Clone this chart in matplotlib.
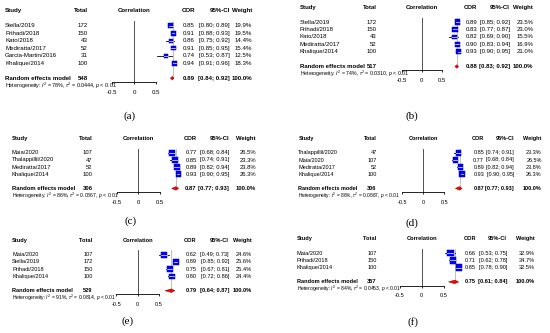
import matplotlib
matplotlib.use("Agg")
import matplotlib.pyplot as plt
from matplotlib.patches import Rectangle, Polygon

plt.rcParams['font.family'] = ['Liberation Sans', 'DejaVu Sans']
plt.rcParams['axes.unicode_minus'] = False
plt.rcParams['mathtext.fontset'] = 'custom'
plt.rcParams['mathtext.rm'] = 'Liberation Sans'
plt.rcParams['mathtext.it'] = 'Liberation Sans:italic'
plt.rcParams['mathtext.bf'] = 'Liberation Sans:bold'

# ---------------- data ----------------
studies_a = ["Stella/2019", "Prihadi/2018", "Kato/2018", "Mediratta/2017", "Garcia-Martin/2016", "Khalique/2014"]
totals_a = [172, 150, 43, 52, 31, 100]
cor_a = [0.85, 0.91, 0.86, 0.91, 0.74, 0.94]
lower_a = [0.80, 0.88, 0.75, 0.85, 0.53, 0.91]
upper_a = [0.89, 0.93, 0.92, 0.95, 0.87, 0.96]
weight_a = [19.9, 19.5, 14.4, 15.4, 12.5, 18.3]
pooled_a = [0.89, 0.84, 0.92]
pooled_total_a = 548
het_a = [78, "0.0444"]

studies_b = ["Stella/2019", "Prihadi/2018", "Kato/2018", "Mediratta/2017", "Khalique/2014"]
totals_b = [172, 150, 43, 52, 100]
cor_b = [0.89, 0.83, 0.82, 0.90, 0.93]
lower_b = [0.85, 0.77, 0.69, 0.83, 0.90]
upper_b = [0.92, 0.87, 0.90, 0.94, 0.95]
weight_b = [23.5, 23.0, 15.5, 16.9, 21.0]
pooled_b = [0.88, 0.83, 0.92]
pooled_total_b = 517
het_b = [74, "0.0310"]

studies_c = ["Maia/2020", "Thalappillil/2020", "Mediratta/2017", "Khalique/2014"]
totals_c = [107, 47, 52, 100]
cor_c = [0.77, 0.85, 0.89, 0.93]
lower_c = [0.68, 0.74, 0.82, 0.90]
upper_c = [0.84, 0.91, 0.94, 0.95]
weight_c = [26.5, 23.3, 23.8, 26.3]
pooled_c = [0.87, 0.77, 0.93]
pooled_total_c = 306
het_c = [86, "0.0867"]

studies_d = ["Thalappillil/2020", "Maia/2020", "Mediratta/2017", "Khalique/2014"]
totals_d = [47, 107, 52, 100]
cor_d = [0.85, 0.77, 0.89, 0.93]
lower_d = [0.74, 0.68, 0.82, 0.90]
upper_d = [0.91, 0.84, 0.94, 0.95]
weight_d = [23.3, 26.5, 23.8, 26.3]
pooled_d = [0.87, 0.77, 0.93]
pooled_total_d = 306
het_d = [86, "0.0867"]

studies_e = ["Maia/2020", "Stella/2019", "Prihadi/2018", "Khalique/2014"]
totals_e = [107, 172, 150, 100]
cor_e = [0.62, 0.89, 0.75, 0.80]
lower_e = [0.49, 0.85, 0.67, 0.72]
upper_e = [0.73, 0.92, 0.81, 0.86]
weight_e = [24.6, 25.6, 25.4, 24.4]
pooled_e = [0.79, 0.64, 0.87]
pooled_total_e = 529
het_e = [91, "0.0814"]

studies_f = ["Maia/2020", "Prihadi/2018", "Khalique/2014"]
totals_f = [107, 150, 100]
cor_f = [0.66, 0.71, 0.85]
lower_f = [0.53, 0.62, 0.78]
upper_f = [0.75, 0.78, 0.90]
weight_f = [32.9, 34.7, 32.5]
pooled_f = [0.75, 0.61, 0.84]
pooled_total_f = 357
het_f = [84, "0.0453"]

tick_values = [-0.5, 0, 0.5]
tick_labels = ["-0.5", "0", "0.5"]
panel_labels = ["(a)", "(b)", "(c)", "(d)", "(e)", "(f)"]

# ---------------- layout (pixels) ----------------
W, H = 550, 333
layouts = [
    dict(box=(0, 275), study=5, total=88, zero=134, s=43.3, cor=195, ci=230, wt=252, hy=10.7, ru=7.5, fs=4.4, lab=(130, 116)),
    dict(box=(275, 550), study=300, total=376.7, zero=421.7, s=40.0, cor=477, ci=510, wt=533.3, hy=7.3, ru=7.4, fs=4.3, lab=(412, 116)),
    dict(box=(0, 275), study=11.7, total=92.7, zero=138.3, s=43.3, cor=196.7, ci=229, wt=256, hy=138.7, ru=7.1, fs=4.2, lab=(131, 221)),
    dict(box=(275, 550), study=298.3, total=376.7, zero=423.3, s=41.7, cor=484, ci=514, wt=541.7, hy=138.7, ru=7.1, fs=4.0, lab=(412, 223)),
    dict(box=(0, 275), study=12.3, total=92.7, zero=137.7, s=42.7, cor=196.7, ci=229, wt=251.7, hy=240.3, ru=7.2, fs=4.1, lab=(128, 321)),
    dict(box=(275, 550), study=296.7, total=376.7, zero=421.7, s=44.0, cor=476, ci=507, wt=535, hy=238.7, ru=7.2, fs=4.1, lab=(413, 322)),
]

fig = plt.figure(figsize=(5.5, 3.33), dpi=100)
fig.patch.set_facecolor('white')


def draw_panel(studies, totals, cor, lo, hi, wts, pooled, ptotal, het, lay, label):
    k = len(studies)
    L, R = lay['box']
    zero, s, hy, ru, fs = lay['zero'], lay['s'], lay['hy'], lay['ru'], lay['fs']
    T = hy - ru
    B = hy + ru * (k + 6)
    ax = fig.add_axes([L / W, 1 - B / H, (R - L) / W, (B - T) / H])
    ax.set_xlim((L - zero) / s, (R - zero) / s)
    ax.set_ylim((B - hy) / ru, (T - hy) / ru)
    ax.patch.set_visible(False)

    def X(px):
        return (px - zero) / s

    bold = dict(fontsize=fs, fontweight='bold', va='center', clip_on=False)
    norm = dict(fontsize=fs, va='center', clip_on=False)

    # header
    ax.text(X(lay['study']), 0, "Study", ha='left', **bold)
    ax.text(X(lay['total']), 0, "Total", ha='right', **bold)
    ax.text(0, 0, "Correlation", ha='center', **bold)
    ax.text(X(lay['cor']), 0, "COR", ha='right', **bold)
    ax.text(X(lay['ci']), 0, "95%-CI", ha='right', **bold)
    ax.text(X(lay['wt']), 0, "Weight", ha='right', **bold)

    rows = [2 + i for i in range(k)]
    prow = k + 3
    axis_row = k + 3.5

    # reference lines
    ax.plot([0, 0], [1.4, axis_row], color='#333333', lw=0.6, zorder=1, clip_on=False)
    ax.plot([pooled[0], pooled[0]], [1.4, prow], color='#b5b5b5', lw=0.6, zorder=1, clip_on=False)

    for r, name, n, c, l, h, w in zip(rows, studies, totals, cor, lo, hi, wts):
        ax.text(X(lay['study']), r, name, ha='left', **norm)
        ax.text(X(lay['total']), r, str(n), ha='right', **norm)
        ax.text(X(lay['cor']), r, f"{c:.2f}", ha='right', **norm)
        ax.text(X(lay['ci']), r, f"[{l:.2f}; {h:.2f}]", ha='right', **norm)
        ax.text(X(lay['wt']), r, f"{w:.1f}%", ha='right', **norm)
        ax.plot([l, h], [r, r], color='black', lw=0.6, zorder=2, clip_on=False)
        side = 1.13 * w ** 0.5
        bw, bh = side / s, side / ru
        ax.add_patch(Rectangle((c - bw / 2, r - bh / 2), bw, bh, facecolor='#0000ff',
                               edgecolor='#00008b', lw=0.35, zorder=3, clip_on=False))
        ax.plot([max(l, c - bw / 2), min(h, c + bw / 2)], [r, r], color='white', lw=0.5,
                zorder=4, clip_on=False)

    # pooled
    ax.text(X(lay['study']), prow, "Random effects model", ha='left', **bold)
    ax.text(X(lay['total']), prow, str(ptotal), ha='right', **bold)
    ax.text(X(lay['cor']), prow, f"{pooled[0]:.2f}", ha='right', **bold)
    ax.text(X(lay['ci']), prow, f"[{pooled[1]:.2f}; {pooled[2]:.2f}]", ha='right', **bold)
    ax.text(X(lay['wt']), prow, "100.0%", ha='right', **bold)
    dh = 1.8 / ru
    ax.add_patch(Polygon([(pooled[1], prow), (pooled[0], prow - dh), (pooled[2], prow),
                          (pooled[0], prow + dh)], closed=True, facecolor='#ff0000',
                         edgecolor='#8b0000', lw=0.35, zorder=3, clip_on=False))
    ax.text(X(lay['study']), k + 4,
            r"Heterogeneity: $I^2$ = %d%%, $\tau^2$ = %s, $p$ < 0.01" % (het[0], het[1]),
            ha='left', fontsize=fs * 0.88, va='center', clip_on=False)

    # axis
    for sp in ['left', 'right', 'top']:
        ax.spines[sp].set_visible(False)
    ax.spines['bottom'].set_position(('data', axis_row))
    ax.spines['bottom'].set_bounds(-0.5, 0.5)
    ax.spines['bottom'].set_linewidth(0.6)
    ax.set_yticks([])
    ax.set_xticks(tick_values)
    ax.set_xticklabels(tick_labels)
    ax.tick_params(axis='x', length=1.6, width=0.6, pad=4.0, labelsize=fs)

    fig.text(lay['lab'][0] / W, 1 - lay['lab'][1] / H, label, ha='center', va='center',
             fontsize=8, family='Liberation Serif')


panels = [
    (studies_a, totals_a, cor_a, lower_a, upper_a, weight_a, pooled_a, pooled_total_a, het_a),
    (studies_b, totals_b, cor_b, lower_b, upper_b, weight_b, pooled_b, pooled_total_b, het_b),
    (studies_c, totals_c, cor_c, lower_c, upper_c, weight_c, pooled_c, pooled_total_c, het_c),
    (studies_d, totals_d, cor_d, lower_d, upper_d, weight_d, pooled_d, pooled_total_d, het_d),
    (studies_e, totals_e, cor_e, lower_e, upper_e, weight_e, pooled_e, pooled_total_e, het_e),
    (studies_f, totals_f, cor_f, lower_f, upper_f, weight_f, pooled_f, pooled_total_f, het_f),
]
for p, lay, lab in zip(panels, layouts, panel_labels):
    draw_panel(*p, lay, lab)

fig.savefig("out.png", dpi=100, facecolor='white')
